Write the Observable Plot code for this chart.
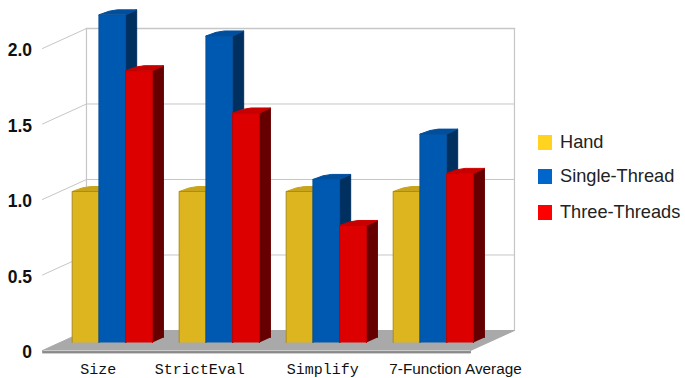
<!DOCTYPE html>
<html>
<head>
<meta charset="utf-8">
<script src="https://cdn.jsdelivr.net/npm/d3@7"></script>
<script src="https://cdn.jsdelivr.net/npm/@observablehq/plot@0.6"></script>
<style>
html,body{margin:0;padding:0;background:#fff}
#wrap{position:relative;width:685px;height:378px;overflow:hidden}
#wrap svg{display:block;background:#fff}
.lg{position:absolute;left:538px;display:flex;align-items:center;height:16px;font:18.2px "Liberation Sans",sans-serif;color:#222;white-space:nowrap}
.lg i{display:block;width:14px;height:15px;margin-right:8px}
</style>
</head>
<body>
<div id="wrap"></div>
<script>
const categories = ["Size", "StrictEval", "Simplify", "7-Function Average"];
const series = ["Hand", "Single-Thread", "Three-Threads"];
const hand = [1.0, 1.0, 1.0, 1.0];
const singleThread = [2.17, 2.03, 1.08, 1.38];
const threeThreads = [1.8, 1.52, 0.775, 1.12];
const tickValues = [0, 0.5, 1, 1.5, 2];
const tickLabels = ["0", "0.5", "1.0", "1.5", "2.0"];
const labelCenters = [0.52, 1.47, 2.62, 3.86];
const frontColors = ["#dcb51f", "#0059b0", "#dd0000"];
const topColors = ["#c8a41c", "#004f9e", "#c90000"];
const sideColors = ["#8f7510", "#003060", "#660000"];
const edgeColors = ["#a98c1c", "#0a4f96", "#c00000"];
const legendColors = ["#ffd320", "#0066cc", "#ff0000"];

// Oblique projection: category units + depth (0 = front of floor, 1 = back wall)
const depthX = 0.411, depthY = 0.1325, barDepth = 0.4, barBack = 0.65, barW = 0.25;
const px = (u, d) => u + d * depthX;
const py = (v, d) => v + (d - barDepth) * depthY;
const values = [hand, singleThread, threeThreads];

const polys = [];
let pid = 0;
const addPoly = (pts, fill, stroke) => {
  const id = pid++;
  pts.forEach(([u, v, d]) => polys.push({id, x: px(u, d), y: py(v, d), fill, stroke: stroke || fill}));
};
// Floor
addPoly([[0, 0, 0], [0, 0, 1], [4, 0, 1], [4, 0, 0]], "#a9a9a9");
addPoly([[0, -0.006, 0], [4, -0.006, 0], [4, -0.016, 0], [0, -0.016, 0]], "#8a8a8a");

categories.forEach((_, i) => {
  series.forEach((_, j) => {
    const u0 = i + 0.113 + j * barW, u1 = u0 + barW, v = values[j][i];
    addPoly([[u1, 0, barDepth], [u1, v, barDepth], [u1, v, barBack], [u1, 0, barBack]], sideColors[j]);
    addPoly([[u0, v, barDepth], [u0 + 0.02, v, barBack - 0.07], [u0 + 0.07, v, barBack], [u1, v, barBack], [u1, v, barDepth]], topColors[j]);
    addPoly([[u0, 0, barDepth], [u0, v, barDepth], [u1, v, barDepth], [u1, 0, barDepth]], frontColors[j], edgeColors[j]);
  });
});

const wallTop = 2;
const hLines = tickValues.flatMap((t, k) => [
  {k: "b" + k, x: px(0, 1), y: py(t, 1)},
  {k: "b" + k, x: px(4, 1), y: py(t, 1)}
]);
const sideTicks = tickValues.slice(1).flatMap((t, k) => [
  {k: "s" + k, x: px(0, 0), y: py(t, 0)},
  {k: "s" + k, x: px(0, 1), y: py(t, 1)}
]);
const vLines = [0, 4].flatMap(u => [
  {k: "v" + u, x: px(u, 1), y: py(0, 1)},
  {k: "v" + u, x: px(u, 1), y: py(wallTop, 1)}
]);

const chart = Plot.plot({
  width: 685,
  height: 378,
  margin: 0,
  x: {domain: [0, 4], range: [42, 470], axis: null},
  y: {domain: [0, 2], range: [342, 40], axis: null},
  style: {background: "#fff"},
  marks: [
    Plot.line(hLines, {x: "x", y: "y", z: "k", stroke: "#c6c6c6", strokeWidth: 1}),
    Plot.line(sideTicks, {x: "x", y: "y", z: "k", stroke: "#c6c6c6", strokeWidth: 1}),
    Plot.line(vLines, {x: "x", y: "y", z: "k", stroke: "#c6c6c6", strokeWidth: 1.2}),
    Plot.line(hLines.slice(-2), {x: "x", y: "y", stroke: "#c6c6c6", strokeWidth: 1.6}),
    Plot.line(polys, {x: "x", y: "y", z: "id", fill: d => d.fill, stroke: d => d.stroke, strokeWidth: 1, strokeLinejoin: "round"}),
    Plot.text(tickValues, {
      x: () => px(-0.098, 0),
      y: d => py(d, 0),
      text: (d, i) => tickLabels[i],
      textAnchor: "end",
      dy: 2,
      fontSize: 17.5,
      fontWeight: "bold",
      fontFamily: "Liberation Sans",
      fill: "#111"
    }),
    Plot.text(categories.slice(0, 3), {
      x: (d, i) => labelCenters[i],
      y: () => 0,
      text: d => d,
      dy: 27,
      fontSize: 15,
      fontFamily: "Liberation Mono",
      fill: "#111"
    }),
    Plot.text(categories.slice(3), {
      x: () => labelCenters[3],
      y: () => 0,
      text: d => d,
      dy: 27,
      fontSize: 15.3,
      fontFamily: "Liberation Sans",
      fill: "#111"
    })
  ]
});
const wrap = document.getElementById("wrap");
wrap.appendChild(chart);
const legendTops = [134, 168, 204];
series.forEach((s, i) => {
  const row = document.createElement("div");
  row.className = "lg";
  row.style.top = legendTops[i] + "px";
  const sw = document.createElement("i");
  sw.style.background = legendColors[i];
  row.appendChild(sw);
  row.appendChild(document.createTextNode(s));
  wrap.appendChild(row);
});
</script>
</body>
</html>
